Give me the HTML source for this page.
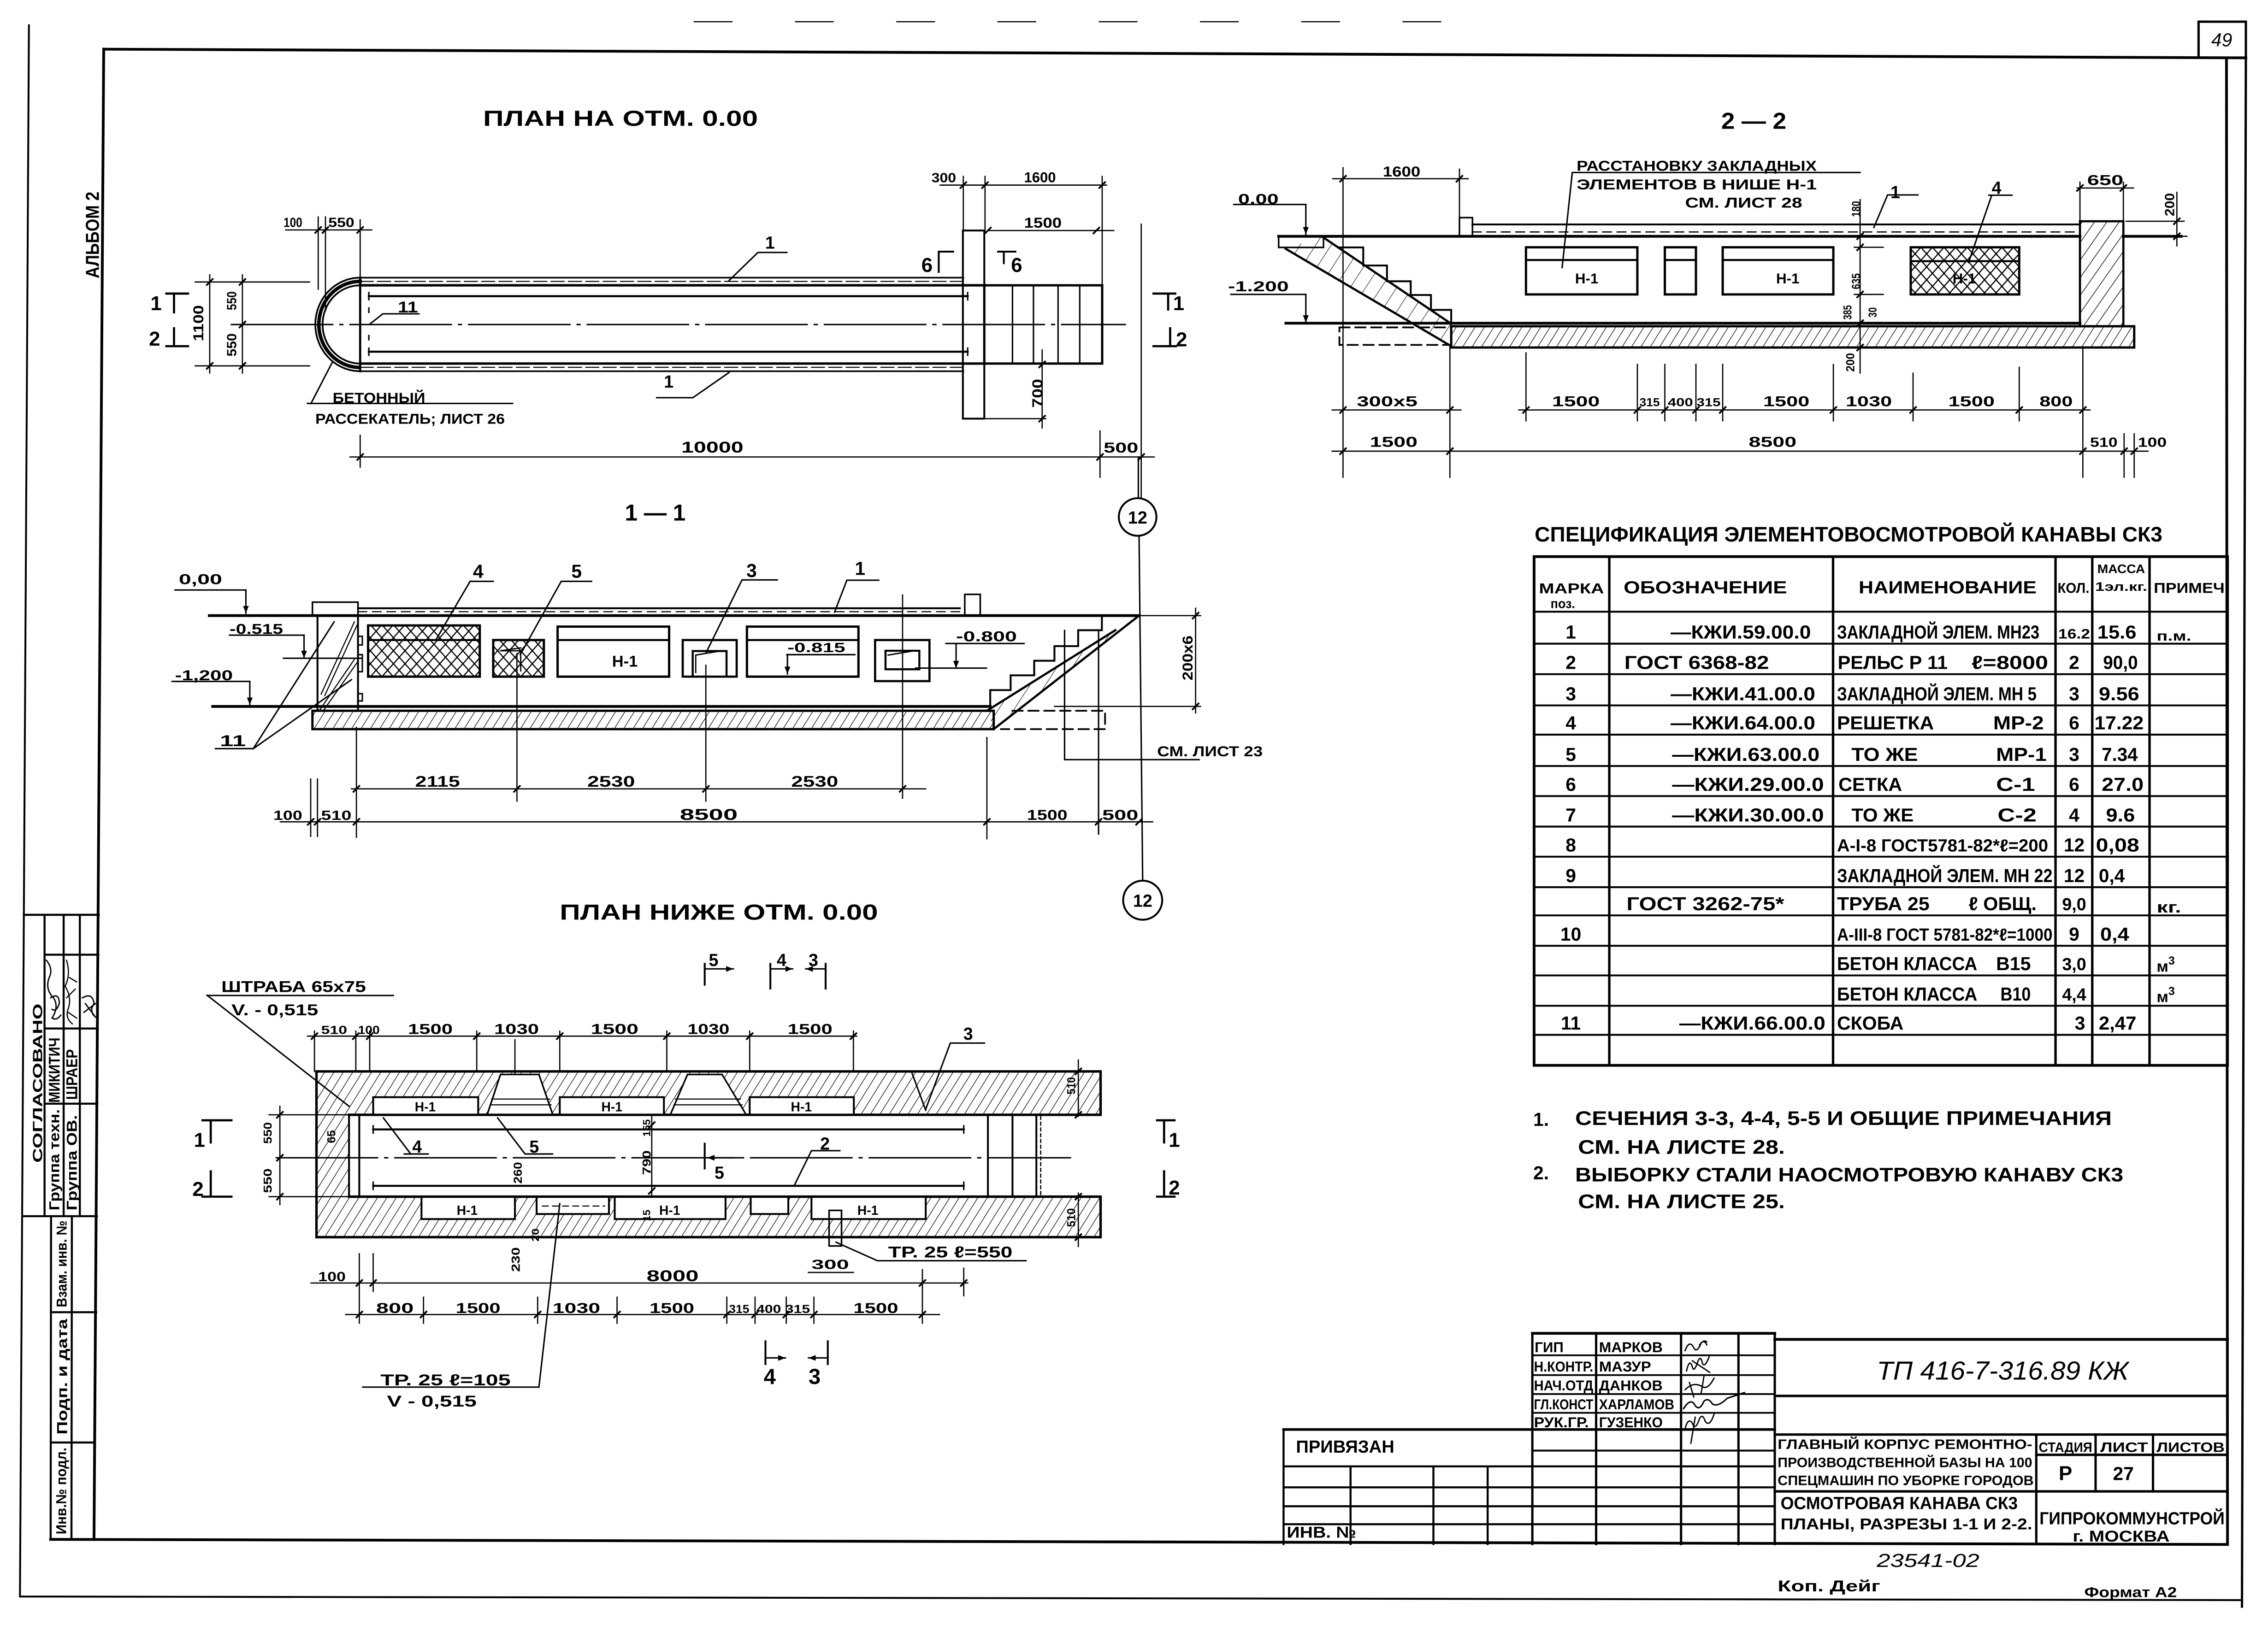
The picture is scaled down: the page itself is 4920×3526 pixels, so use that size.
<!DOCTYPE html>
<html lang="ru"><head><meta charset="utf-8"><title>ТП 416-7-316.89 КЖ</title>
<style>
html,body{margin:0;padding:0;background:#fff;width:4920px;height:3526px;overflow:hidden}
svg{display:block}
text{font-family:"Liberation Sans","DejaVu Sans",sans-serif;fill:#000;stroke:none;font-weight:bold}
.it{font-style:italic;font-weight:normal}
</style></head><body>
<svg xmlns="http://www.w3.org/2000/svg" width="4920" height="3526" viewBox="0 0 1568 1123.7" preserveAspectRatio="none">
<defs>
<pattern id="hs" patternUnits="userSpaceOnUse" width="5.5" height="5.5" patternTransform="rotate(32)"><line x1="0" y1="0" x2="0" y2="5.5" stroke="#000" stroke-width="0.8"/></pattern>
<pattern id="hw" patternUnits="userSpaceOnUse" width="7" height="7" patternTransform="rotate(35)"><line x1="0" y1="0" x2="0" y2="7" stroke="#000" stroke-width="0.85"/></pattern>
<pattern id="xh" patternUnits="userSpaceOnUse" width="8" height="9"><path d="M0,0 L8,9 M8,0 L0,9" stroke="#000" stroke-width="0.8" fill="none"/></pattern>
<pattern id="xs" patternUnits="userSpaceOnUse" width="9" height="9" patternTransform="rotate(33)"><line x1="0" y1="0" x2="0" y2="9" stroke="#000" stroke-width="0.65"/></pattern>
<marker id="ar" viewBox="0 0 10 10" refX="10" refY="5" markerWidth="5" markerHeight="5" orient="auto"><path d="M0,1 L10,5 L0,9 z" fill="#000" stroke="none"/></marker>
</defs>
<rect width="1568" height="1123.7" fill="#fff"/>

<g fill="none" stroke="#000" stroke-width="1" stroke-linecap="square">
<!-- FRAME -->
<path d="M71.7,34 L1552.7,40" stroke-width="1.9"/>
<path d="M1539.3,40 L1540,1068 L35,1064.5" stroke-width="1.9"/>
<path d="M71.7,34 L65,1064.5" stroke-width="1.9"/>
<path d="M20,17.5 L13.8,1104 L1550,1106.5" stroke-width="1.3"/>
<path d="M1552.7,40 L1550,1111" stroke-width="1.6"/>
<path d="M1520,40 V15 H1552.7 V40" stroke-width="1.6"/>
<line x1="480" y1="15" x2="1040" y2="15" stroke-width="0.8" stroke-dasharray="26 44"/>

<!-- LEFT STAMP -->
<path d="M16.5,632.6 H68.3 M30.8,632.6 V841 M44,632.6 V841 M55.2,632.6 V841 M30.8,660.2 H68 M30.8,711.2 H67.6 M30.8,763.2 H67.3 M16,841 H67" stroke-width="1.4"/>
<path d="M35.3,841 L35,1064.5 M49.7,841 L49.4,1064.5 M35.3,907.4 H66.5 M35.1,997.5 H65.6" stroke-width="1.4"/>
<path d="M32,664 q5,6 2,12 q-3,8 3,14 q4,6 -1,14 q3,2 6,-2 M35,690 q6,-4 6,4 q-2,6 -5,4" stroke-width="0.9"/>
<path d="M46,664 q3,10 -1,18 q5,8 2,16 q-2,6 3,10 M46,690 l6,-6 M47,700 l6,4 M48,676 l5,3" stroke-width="0.8"/>
<path d="M57,690 q7,-4 8,4 q-4,6 2,10 M58,700 l8,-6 M59,694 l6,8" stroke-width="0.9"/>

<!-- PLAN 1 -->
<path d="M249,192 H666" stroke-width="1.1"/>
<path d="M249,194.6 H666 M249,254 H666" stroke-width="0.7" stroke-dasharray="9 3"/>
<path d="M249,197.3 H681 M249,251.4 H681" stroke-width="1.7"/>
<path d="M249,256.7 H666" stroke-width="1.1"/>
<path d="M249,192 A31,32.35 0 0 0 249,256.7" stroke-width="1.2"/>
<path d="M249,197.3 A26,27.05 0 0 0 249,251.4" stroke-width="1.2"/>
<path d="M249,194.6 A28.5,29.7 0 0 0 249,254.1" stroke-width="2.4" stroke-dasharray="0.7 2"/>
<path d="M249,192 V256.7" stroke-width="1.5"/>
<path d="M255,213 v3 M255,232 v3" stroke-width="1"/>
<path d="M255,204.8 H669 M255,243.2 H669" stroke-width="1.4"/>
<path d="M255,202.3 v5 M669,202.3 v5 M255,240.7 v5 M669,240.7 v5" stroke-width="1"/>
<path d="M160,224.4 H778" stroke-width="1" stroke-dasharray="70 5 2 5"/>
<rect x="665.7" y="159.4" width="14.8" height="130.1" stroke-width="1.3"/>
<rect x="680.5" y="197.3" width="81.5" height="54.1" stroke-width="1.6"/>
<path d="M700,197.3 V251.4 M714.5,197.3 V251.4 M731.5,197.3 V251.4 M746.5,197.3 V251.4"/>
<path d="M649,188 V174 H659 M690,174 H702 M694,174 V182" stroke-width="1.3"/>
<path d="M650,128 H765 M666,122 V160 M681,122 V160 M762,122 V197" stroke-width="0.85"/>
<path d="M683,159.4 H770" stroke-width="0.85"/>
<path d="M664,130 l4,-4 M679,130 l4,-4 M760,130 l4,-4 M681,161.4 l4,-4 M756,161.4 l4,-4" stroke-width="1.2"/>
<path d="M544,174.6 H524 L504,194"/>
<path d="M454,275 H479 L504,257.6"/>
<path d="M289.6,217 H264.7 L255.8,224"/>
<path d="M197.5,159 H257 M220,150 V200 M225,150 V215 M249,152 V192" stroke-width="0.85"/>
<path d="M218,161 l4,-4 M223,161 l4,-4 M247,161 l4,-4" stroke-width="1.2"/>
<path d="M135,195 H214 M135,253 H214 M145,190 V258 M167.6,190 V258" stroke-width="0.85"/>
<path d="M143,197 l4,-4 M143,255 l4,-4 M165.6,197 l4,-4 M165.6,226.4 l4,-4 M165.6,255 l4,-4" stroke-width="1.2"/>
<path d="M115,203 H130 M120.3,203 V216 M115,239.4 H130 M120.3,239.4 V227" stroke-width="1.5"/>
<path d="M797.5,203 H812.5 M807.6,203 V214 M797.5,239.4 H813 M809,227 V239.4" stroke-width="1.5"/>
<path d="M212.5,279 H354.4 M215,279 L230,250"/>
<path d="M242,316 H798 M249,301 V323 M760.5,298 V330 M789,155 V344.5" stroke-width="0.85"/>
<path d="M247,318 l4,-4 M758.5,318 l4,-4 M787,318 l4,-4" stroke-width="1.2"/>
<path d="M720.5,242 V296 M681,289.5 H723" stroke-width="0.85"/>
<path d="M718.5,254 l4,-4 M718.5,291.5 l4,-4" stroke-width="1.2"/>

<!-- SECTION 2-2 -->
<path d="M884,163.4 H1438 M1468,163.4 H1508" stroke-width="1.9"/>
<path d="M1018,155.2 H1438" stroke-width="1.3"/>
<path d="M1018,160.4 H1438" stroke-width="0.85" stroke-dasharray="6 4"/>
<rect x="1009" y="150.5" width="9" height="12.9" stroke-width="1.1"/>
<rect x="884" y="163.4" width="31" height="7.7" stroke-width="1.1"/>
<polygon points="914.5,163.4 1003.3,223.5 1003.3,239.4 888.8,172" fill="url(#xs)" stroke="none"/>
<path d="M914.5,163.9 L1003.3,223.9 M888.8,172 L1003.3,239.4" stroke-width="1.5"/>
<polyline points="925,171.1 942.5,171.1 942.5,183.6 958.9,183.6 958.9,194.5 975.3,194.5 975.3,204 989.3,204 989.3,214.3 1003.3,214.3 1003.3,223.5" stroke-width="1.3"/>
<path d="M889,223.5 H1438" stroke-width="1.9"/>
<rect x="1003.3" y="225.6" width="472.2" height="14.7" fill="url(#hs)" stroke-width="1.6"/>
<rect x="926" y="226.4" width="77.3" height="12.1" stroke-width="1.2" stroke-dasharray="7 4"/>
<rect x="1438" y="153" width="30" height="72.6" fill="url(#hw)" stroke-width="1.5"/>
<rect x="1055" y="171" width="77" height="32.6" stroke-width="1.6"/>
<path d="M1055,179.8 H1132" stroke-width="1.4"/>
<rect x="1151" y="171" width="21.5" height="32.6" stroke-width="1.6"/>
<path d="M1151,179.8 H1172.5" stroke-width="1.4"/>
<rect x="1191" y="171" width="76.5" height="32.6" stroke-width="1.6"/>
<path d="M1191,179.8 H1267.5" stroke-width="1.4"/>
<rect x="1321" y="171" width="75" height="32.6" fill="url(#xh)" stroke-width="1.6"/>
<path d="M1321,180.6 H1396" stroke-width="1.4"/>
<path d="M1087,119.3 H1286 M1087,119.3 L1080,185"/>
<path d="M921.5,123.6 H1015 M928.5,116 V330 M1009,117 V150" stroke-width="0.85"/>
<path d="M926.5,125.6 l4,-4 M1007,125.6 l4,-4" stroke-width="1.2"/>
<path d="M853,141.4 H902.8"/>
<path d="M902.8,141.4 V162" marker-end="url(#ar)"/>
<path d="M851,203.6 H902.8"/>
<path d="M902.8,203.6 V223" marker-end="url(#ar)"/>
<path d="M1286,138 V258 M1282,171 H1302 M1282,203.6 H1302" stroke-width="0.85"/>
<path d="M1284,165.4 l4,-4 M1284,173 l4,-4 M1284,205.6 l4,-4 M1284,225.5 l4,-4 M1284,242.3 l4,-4" stroke-width="1.2"/>
<path d="M1326,134.8 H1305 L1295.5,157.3"/>
<path d="M1391,135 H1375 M1377,135 L1361,181.5"/>
<path d="M1436,130 H1475 M1438,126 V153 M1468,126 V153" stroke-width="0.85"/>
<path d="M1436,132 l4,-4 M1466,132 l4,-4" stroke-width="1.2"/>
<path d="M1470,153 H1510 M1470,163.4 H1512 M1505,133 V170" stroke-width="0.85"/>
<path d="M1503,155 l4,-4 M1503,165.4 l4,-4" stroke-width="1.2"/>
<path d="M921,283.5 H1010 M1050,283.5 H1445" stroke-width="0.85"/>
<path d="M1055,244 V291 M1132,252 V291 M1151,252 V291 M1172.5,252 V291 M1191,252 V291 M1267.5,252 V291 M1322.6,258 V291 M1396,254 V291 M1440,240 V330 M1002.4,240 V330" stroke-width="0.85"/>
<path d="M926.5,285.5 l4,-4 M1000.4,285.5 l4,-4 M1053,285.5 l4,-4 M1130,285.5 l4,-4 M1149,285.5 l4,-4 M1170.5,285.5 l4,-4 M1189,285.5 l4,-4 M1265.5,285.5 l4,-4 M1320.6,285.5 l4,-4 M1394,285.5 l4,-4 M1438,285.5 l4,-4" stroke-width="1.2"/>
<path d="M921,312 H1485 M1468.5,300 V330 M1475.5,300 V330" stroke-width="0.85"/>
<path d="M926.5,314 l4,-4 M1000.4,314 l4,-4 M1438,314 l4,-4 M1466.5,314 l4,-4 M1473.5,314 l4,-4" stroke-width="1.2"/>

<!-- SECTION 1-1 -->
<circle cx="786.5" cy="357.5" r="13" stroke-width="1.3"/>
<path d="M787,316 V344.5 M787.5,370.5 L790,609" stroke-width="1"/>
<path d="M121,408 H170"/>
<path d="M170,408 V424" marker-end="url(#ar)"/>
<path d="M144.7,425.7 H787.5" stroke-width="1.9"/>
<path d="M247.5,420.6 H663.6" stroke-width="1.3"/>
<path d="M247.5,423 H663.6" stroke-width="0.75" stroke-dasharray="6 4"/>
<rect x="216" y="416.4" width="31.5" height="9.3" stroke-width="1.1"/>
<rect x="667" y="411" width="10.7" height="14.7" stroke-width="1.1"/>
<path d="M158.7,439.2 H210.2 M196,455.2 H250"/>
<path d="M210.2,439.2 V455" marker-end="url(#ar)"/>
<path d="M119,471.2 H172.7"/>
<path d="M172.7,471.2 V487.3" marker-end="url(#ar)"/>
<path d="M147,488.5 H684.6" stroke-width="1.9"/>
<rect x="216" y="491.5" width="471" height="12.7" fill="url(#hs)" stroke-width="1.6"/>
<polygon points="682.3,491.5 771.1,435.8 779,425.7 787.5,425.7 687,504.2" fill="url(#xs)" stroke="none"/>
<path d="M687,504.2 L787.5,425.7 M682.3,491.5 L771.1,435.8" stroke-width="1.5"/>
<polyline points="684.6,488.5 684.6,477.2 698.7,477.2 698.7,467 715,467 715,456.9 729,456.9 729,446.8 745.4,446.8 745.4,435.8 761.8,435.8 761.8,425.7" stroke-width="1.3"/>
<path d="M700,491.5 H764 V504.2 H692" stroke-width="1.2" stroke-dasharray="7 4"/>
<path d="M736,436 V525.3 H829 M759.5,436 V576.7" stroke-width="1"/>
<path d="M826.6,420.6 V493 M787.5,425.7 H830 M729,488.5 H830" stroke-width="0.85"/>
<path d="M824.6,427.7 l4,-4 M824.6,490.5 l4,-4" stroke-width="1.2"/>
<path d="M219.5,425.7 V491.5 M247.5,425.7 V491.5" stroke-width="1.3"/>
<path d="M247.5,440 h3 v6 h-3 M247.5,452.7 h3 v11.8 h-3 M247.5,479.7 h3 v5 h-3" stroke-width="1"/>
<path d="M222,480 L245,430 M224.5,481 L247,432 M221,491 L245,456 M223.5,491.5 L247,458" stroke-width="0.75"/>
<path d="M149,517.7 H175.1 L231,430 M175.1,517.7 L243,470"/>
<rect x="254.5" y="432.5" width="77.2" height="35.4" fill="url(#xh)" stroke-width="1.6"/>
<path d="M254.5,442.6 H331.7" stroke-width="1.4"/>
<rect x="341" y="442.6" width="35" height="25.3" fill="url(#xh)" stroke-width="1.6"/>
<path d="M346,450 h14 v14 M346,450 l14,-2" stroke-width="0.9"/>
<rect x="385.5" y="433.3" width="77.1" height="34.6" stroke-width="1.6"/>
<path d="M385.5,442.6 H462.6" stroke-width="1.4"/>
<rect x="472" y="442.6" width="37.3" height="25.3" stroke-width="1.5"/>
<rect x="478.9" y="450.2" width="23.4" height="17.7" stroke-width="1.4"/>
<path d="M481,453 l18,-3 M481,453 v12" stroke-width="0.9"/>
<rect x="516.4" y="433.3" width="77.1" height="34.6" stroke-width="1.6"/>
<path d="M516.4,442.6 H593.5" stroke-width="1.4"/>
<path d="M544,452.7 H591"/>
<path d="M544.4,452.7 V466" marker-end="url(#ar)"/>
<rect x="605" y="442.6" width="37.6" height="28.4" stroke-width="1.5"/>
<rect x="612.2" y="450" width="23.4" height="12.8" stroke-width="1.4"/>
<path d="M614,453 l18,-3" stroke-width="0.9"/>
<path d="M654,445 H708 M633,462 H682"/>
<path d="M661,445 V462" marker-end="url(#ar)"/>
<path d="M341,402 H325 L301.3,442.6"/>
<path d="M409,402 H388 L359.7,452.7"/>
<path d="M537.4,401 H513 L488.3,451"/>
<path d="M607.5,401.2 H585.5 L577,423.2"/>
<path d="M357.4,452 V554 M488,460 V554 M624,411.4 V552 M246.4,503 V579 M682.3,510 V580 M214.8,538.7 V578.4 M219.5,538.7 V578.4" stroke-width="0.85"/>
<path d="M243,545.5 H640 M193.8,568.3 H796.9" stroke-width="0.85"/>
<path d="M244.4,547.5 l4,-4 M355.4,547.5 l4,-4 M486,547.5 l4,-4 M622,547.5 l4,-4" stroke-width="1.2"/>
<path d="M212.8,570.3 l4,-4 M217.5,570.3 l4,-4 M244.4,570.3 l4,-4 M680.3,570.3 l4,-4 M757.5,570.3 l4,-4 M785.5,570.3 l4,-4" stroke-width="1.2"/>

<!-- LOWER PLAN -->
<circle cx="790" cy="622.5" r="13.5" stroke-width="1.3"/>
<path d="M487.2,666.5 V681 M532.6,666.5 V683.6 M570.8,666.5 V683.6" stroke-width="1.3"/>
<path d="M487.2,670 H507" stroke-width="1" marker-end="url(#ar)"/>
<path d="M532.6,670 H548" stroke-width="1" marker-end="url(#ar)"/>
<path d="M570.8,670 H557" stroke-width="1" marker-end="url(#ar)"/>
<path d="M143,688.4 H272 M143.4,688.4 L241.3,765"/>
<path d="M212.6,716.5 H592.3" stroke-width="0.85"/>
<path d="M217.4,713 V741 M246,713 V741 M255.6,713 V741 M329.6,713 V741 M387,713 V741 M461,713 V741 M518.3,713 V741 M590,713 V741 M356,719 V755" stroke-width="0.85"/>
<path d="M215.4,718.5 l4,-4 M244,718.5 l4,-4 M253.6,718.5 l4,-4 M327.6,718.5 l4,-4 M385,718.5 l4,-4 M459,718.5 l4,-4 M516.3,718.5 l4,-4 M588,718.5 l4,-4" stroke-width="1.2"/>
<rect x="218.8" y="740.9" width="542.1" height="30" fill="url(#hs)" stroke="none"/>
<rect x="218.8" y="770.9" width="22.5" height="56.6" fill="url(#hs)" stroke="none"/>
<rect x="218.8" y="827.5" width="542.1" height="28" fill="url(#hs)" stroke="none"/>
<path d="M218.8,740.9 H760.9 V770.9 H241.3 M218.8,740.9 V855.5 H760.9 V827.5 H241.3" stroke-width="1.7"/>
<rect x="258" y="758.7" width="72.6" height="12.2" fill="#fff" stroke-width="1.3"/>
<polygon points="346,743 372.6,743 382.2,770.9 336.8,770.9" fill="#fff" stroke-width="1.1"/>
<path d="M340,760 H380 M339,764 H381" stroke-width="0.75"/>
<rect x="387" y="758.7" width="72" height="12.2" fill="#fff" stroke-width="1.3"/>
<polygon points="475.3,743 499.2,743 515.9,770.9 463.4,770.9" fill="#fff" stroke-width="1.1"/>
<path d="M467,760 H512 M466,764 H513" stroke-width="0.75"/>
<rect x="518.3" y="758.7" width="72" height="12.2" fill="#fff" stroke-width="1.3"/>
<path d="M630.5,742 L640,767.7" stroke-width="1"/>
<rect x="291.4" y="827.5" width="64.6" height="15.5" fill="#fff" stroke-width="1.3"/>
<rect x="371" y="827.5" width="50" height="12" fill="#fff" stroke-width="1.3"/>
<path d="M375,834 H418" stroke-width="0.75" stroke-dasharray="4 3"/>
<rect x="425" y="827.5" width="76.6" height="15.5" fill="#fff" stroke-width="1.3"/>
<rect x="519" y="827.5" width="26" height="12" fill="#fff" stroke-width="1.3"/>
<rect x="561" y="827.5" width="79" height="15.5" fill="#fff" stroke-width="1.3"/>
<path d="M241.3,770.9 H716.5 M241.3,827.5 H716.5" stroke-width="1.6"/>
<path d="M241.3,770.9 V827.5 M248.4,770.9 V827.5 M683,770.9 V827.5 M700,770.9 V827.5 M716.5,770.9 V827.5" stroke-width="1.3"/>
<path d="M719.5,772 V826" stroke-width="0.85" stroke-dasharray="2 2"/>
<path d="M258,781 H666.3 M258,820 H666.3" stroke-width="1.4"/>
<path d="M258,778.5 v5 M666.3,778.5 v5 M258,817.5 v5 M666.3,817.5 v5"/>
<path d="M191,800.6 H740" stroke-width="1" stroke-dasharray="70 5 2 5"/>
<path d="M186,770.9 H241 M186,827.5 H241 M193.5,765 V833" stroke-width="0.85"/>
<path d="M191.5,772.9 l4,-4 M191.5,802.6 l4,-4 M191.5,829.5 l4,-4" stroke-width="1.2"/>
<path d="M140,774.7 H160 M145.7,774.7 V790 M140,827.5 H160 M145.7,827.5 V810" stroke-width="1.5"/>
<path d="M800,774.7 H812 M804.8,774.7 V790 M800,827.5 H812 M804.8,827.5 V810" stroke-width="1.5"/>
<path d="M450.6,770.9 V827.5" stroke-width="0.85"/>
<path d="M448.6,780 l4,-4 M448.6,825.5 l4,-4" stroke-width="1.2"/>
<path d="M296,798 H279.5 M284,798 L265,773"/>
<path d="M382,798 H363 L344,773"/>
<path d="M580.6,795.7 H561 L549,820"/>
<path d="M680.6,721.3 H657 L640,767"/>
<path d="M487.2,790.9 V808" stroke-width="1.3"/>
<path d="M511,800.6 H489" stroke-width="1" marker-end="url(#ar)"/>
<rect x="573.2" y="837" width="8.6" height="24.6" stroke-width="1.1"/>
<path d="M578,859 L606.6,871.8 H709.3"/>
<path d="M558.9,879.9 H590" stroke-width="0.85"/>
<path d="M745.5,733 V772 M745.5,825 V862" stroke-width="0.85"/>
<path d="M743.5,742.9 l4,-4 M743.5,772.9 l4,-4 M743.5,829.5 l4,-4 M743.5,857.5 l4,-4" stroke-width="1.2"/>
<path d="M215,887.2 H669 M248.4,867 V915 M258,867 V893 M637.7,878 V915 M666.3,877 V896" stroke-width="0.85"/>
<path d="M246.4,889.2 l4,-4 M256,889.2 l4,-4 M635.7,889.2 l4,-4 M664.3,889.2 l4,-4" stroke-width="1.2"/>
<path d="M239,909 H649.6 M292.8,897 V915 M371.7,897 V915 M426.6,897 V915 M502.5,897 V915 M522,897 V915 M543.6,897 V915 M562.7,897 V915" stroke-width="0.85"/>
<path d="M246.4,911 l4,-4 M290.8,911 l4,-4 M369.7,911 l4,-4 M424.6,911 l4,-4 M500.5,911 l4,-4 M520,911 l4,-4 M541.6,911 l4,-4 M560.7,911 l4,-4 M635.7,911 l4,-4" stroke-width="1.2"/>
<path d="M250.8,959.2 H372.6 L387,832.3"/>
<path d="M529.2,927.5 V943.3 M572.3,927.5 V943.3" stroke-width="1.3"/>
<path d="M529.2,939 H543" stroke-width="1" marker-end="url(#ar)"/>
<path d="M572.3,939 H559" stroke-width="1" marker-end="url(#ar)"/>

<!-- SPEC TABLE -->
<rect x="1060.6" y="384.9" width="479.4" height="351.8" stroke-width="1.9"/>
<path d="M1112.6,384.9 V736.7 M1267.3,384.9 V736.7 M1421.1,384.9 V736.7 M1446.5,384.9 V736.7 M1486.1,384.9 V736.7" stroke-width="1.7"/>
<path d="M1060.6,423 H1540 M1060.6,445.1 H1540 M1060.6,466.2 H1540 M1060.6,487.8 H1540 M1060.6,508 H1540 M1060.6,529.7 H1540 M1060.6,550.5 H1540 M1060.6,571.6 H1540 M1060.6,592.4 H1540 M1060.6,613.5 H1540 M1060.6,633 H1540 M1060.6,654 H1540 M1060.6,674.5 H1540 M1060.6,695.5 H1540 M1060.6,715.6 H1540" stroke-width="1.3"/>

<!-- TITLE BLOCK -->
<path d="M1059.4,922 H1227 M1227,926.2 H1540" stroke-width="1.9"/>
<path d="M1059.4,922 V1067.7 M1103.5,922 V1067.7 M1162.2,922 V1067.7 M1201.9,922 V1067.7 M1227,922 V1067.7" stroke-width="1.6"/>
<path d="M1059.4,937.2 H1227 M1059.4,950.9 H1227 M1059.4,964 H1227 M1059.4,977 H1227" stroke-width="1.2"/>
<path d="M887.4,988.5 H1227" stroke-width="1.8"/>
<path d="M1059.4,1003.1 H1227" stroke-width="1.3"/>
<path d="M887.4,1014 H1227 M887.4,1028.5 H1227 M887.4,1041.6 H1227 M887.4,1054 H1227" stroke-width="1.4"/>
<path d="M887.4,988.5 V1067.7 M933.7,1014 V1067.7 M991,1014 V1067.7 M1028.5,1014 V1067.7" stroke-width="1.4"/>
<path d="M1227,965.3 H1540 M1227,992 H1540 M1227,1031.3 H1540 M1407.8,1006 H1540" stroke-width="1.7"/>
<path d="M1407.8,992 V1067.7 M1448.8,992 V1031.3 M1488.5,992 V1031.3" stroke-width="1.6"/>
<path d="M1165,934 q3,-8 6,-2 q2,4 5,-3 q2,-3 4,1 M1175,930 q3,-4 5,-2" stroke-width="0.9"/>
<path d="M1166,948 q2,-9 4,-3 q1,5 4,-4 q2,-4 3,2 q2,3 5,-6 M1170,941 l12,8" stroke-width="0.9"/>
<path d="M1165,961 q6,-6 12,-2 q4,2 8,-6 M1168,956 l3,10 M1178,952 l-2,12" stroke-width="0.9"/>
<path d="M1164,974 q5,-8 8,-2 q3,4 6,-3 q3,-3 6,2 q4,2 10,-4 q6,-2 12,-4" stroke-width="1"/>
<path d="M1165,988 q2,-8 5,-4 q2,6 5,-3 q2,-4 4,2 q3,4 6,-5 M1172,980 l-3,18" stroke-width="0.9"/>
</g>

<g>
<!-- frame texts -->
<text x="1536" y="32" font-size="13" text-anchor="middle" class="it">49</text>
<text transform="translate(63.8,162.5) rotate(-90)" x="0" y="4.5" font-size="13" text-anchor="middle" textLength="60" lengthAdjust="spacingAndGlyphs">АЛЬБОМ 2</text>
<!-- stamp texts -->
<text transform="translate(26,749) rotate(-90)" x="0" y="3.2" font-size="9" text-anchor="middle" textLength="110" lengthAdjust="spacingAndGlyphs">СОГЛАСОВАНО</text>
<text transform="translate(37.4,740) rotate(-90)" x="0" y="3.8" font-size="11" text-anchor="middle" textLength="45" lengthAdjust="spacingAndGlyphs">МИКИТИЧ</text>
<text transform="translate(49.6,743) rotate(-90)" x="0" y="3.8" font-size="11" text-anchor="middle" textLength="35" lengthAdjust="spacingAndGlyphs">ШРАЕР</text>
<text transform="translate(37.4,802) rotate(-90)" x="0" y="3.5" font-size="10" text-anchor="middle" textLength="70" lengthAdjust="spacingAndGlyphs">Группа техн.</text>
<text transform="translate(49.6,804) rotate(-90)" x="0" y="3.5" font-size="10" text-anchor="middle" textLength="66" lengthAdjust="spacingAndGlyphs">Группа ОВ.</text>
<text transform="translate(42.5,874) rotate(-90)" x="0" y="3.5" font-size="10" text-anchor="middle" textLength="60" lengthAdjust="spacingAndGlyphs">Взам. инв. №</text>
<text transform="translate(42.8,952) rotate(-90)" x="0" y="3.5" font-size="10" text-anchor="middle" textLength="80" lengthAdjust="spacingAndGlyphs">Подп. и дата</text>
<text transform="translate(42.3,1031) rotate(-90)" x="0" y="3.5" font-size="10" text-anchor="middle" textLength="60" lengthAdjust="spacingAndGlyphs">Инв.№ подл.</text>

<!-- PLAN 1 texts -->
<text x="334" y="87" font-size="15" textLength="190" lengthAdjust="spacingAndGlyphs">ПЛАН НА ОТМ. 0.00</text>
<text x="644" y="126" font-size="9" textLength="17" lengthAdjust="spacingAndGlyphs">300</text>
<text x="708" y="126" font-size="10" textLength="22" lengthAdjust="spacingAndGlyphs">1600</text>
<text x="708" y="157.5" font-size="10" textLength="26" lengthAdjust="spacingAndGlyphs">1500</text>
<text x="196" y="157" font-size="9" textLength="13" lengthAdjust="spacingAndGlyphs">100</text>
<text x="227" y="157" font-size="9" textLength="18" lengthAdjust="spacingAndGlyphs">550</text>
<text x="529" y="172" font-size="12">1</text>
<text x="637" y="188" font-size="14">6</text>
<text x="699" y="188" font-size="14">6</text>
<text x="275" y="216" font-size="11" textLength="14" lengthAdjust="spacingAndGlyphs">11</text>
<text x="104" y="214.5" font-size="14">1</text>
<text x="103" y="239" font-size="14">2</text>
<text x="811" y="214.5" font-size="14">1</text>
<text x="813" y="239.5" font-size="14">2</text>
<text transform="translate(137,223.5) rotate(-90)" x="0" y="3.5" font-size="10" text-anchor="middle" textLength="25" lengthAdjust="spacingAndGlyphs">1100</text>
<text transform="translate(160,208) rotate(-90)" x="0" y="3.3" font-size="9" text-anchor="middle" textLength="13" lengthAdjust="spacingAndGlyphs">550</text>
<text transform="translate(160,238.5) rotate(-90)" x="0" y="3.3" font-size="9" text-anchor="middle" textLength="16" lengthAdjust="spacingAndGlyphs">550</text>
<text transform="translate(717,272) rotate(-90)" x="0" y="3.5" font-size="10" text-anchor="middle" textLength="20" lengthAdjust="spacingAndGlyphs">700</text>
<text x="230" y="278.5" font-size="10" textLength="64" lengthAdjust="spacingAndGlyphs">БЕТОННЫЙ</text>
<text x="218" y="293" font-size="10" textLength="131" lengthAdjust="spacingAndGlyphs">РАССЕКАТЕЛЬ; ЛИСТ 26</text>
<text x="459" y="268" font-size="12">1</text>
<text x="471" y="313" font-size="11" textLength="43" lengthAdjust="spacingAndGlyphs">10000</text>
<text x="763" y="313" font-size="10" textLength="24" lengthAdjust="spacingAndGlyphs">500</text>

<!-- SECTION 2-2 texts -->
<text x="1190" y="89" font-size="16" textLength="45" lengthAdjust="spacingAndGlyphs">2 — 2</text>
<text x="1090" y="118" font-size="10" textLength="166" lengthAdjust="spacingAndGlyphs">РАССТАНОВКУ ЗАКЛАДНЫХ</text>
<text x="1090" y="131" font-size="10" textLength="166" lengthAdjust="spacingAndGlyphs">ЭЛЕМЕНТОВ В НИШЕ Н-1</text>
<text x="1165" y="143.5" font-size="10" textLength="81" lengthAdjust="spacingAndGlyphs">СМ. ЛИСТ 28</text>
<text x="956" y="122" font-size="10" textLength="26" lengthAdjust="spacingAndGlyphs">1600</text>
<text x="856" y="141" font-size="10" textLength="28" lengthAdjust="spacingAndGlyphs">0.00</text>
<text x="849" y="201.4" font-size="10" textLength="42" lengthAdjust="spacingAndGlyphs">-1.200</text>
<text x="1097" y="196" font-size="10" text-anchor="middle">Н-1</text>
<text x="1236" y="196" font-size="10" text-anchor="middle">Н-1</text>
<text x="1358" y="196" font-size="10" text-anchor="middle">Н-1</text>
<text transform="translate(1283,144.5) rotate(-90)" x="0" y="3" font-size="8" text-anchor="middle" textLength="11" lengthAdjust="spacingAndGlyphs">180</text>
<text transform="translate(1283,194.5) rotate(-90)" x="0" y="3" font-size="8" text-anchor="middle" textLength="11" lengthAdjust="spacingAndGlyphs">635</text>
<text transform="translate(1277,216) rotate(-90)" x="0" y="3" font-size="8" text-anchor="middle" textLength="10" lengthAdjust="spacingAndGlyphs">385</text>
<text transform="translate(1294.5,216) rotate(-90)" x="0" y="3" font-size="8" text-anchor="middle" textLength="7" lengthAdjust="spacingAndGlyphs">30</text>
<text transform="translate(1279,250.6) rotate(-90)" x="0" y="3" font-size="8" text-anchor="middle" textLength="13" lengthAdjust="spacingAndGlyphs">200</text>
<text x="1307" y="137" font-size="12">1</text>
<text x="1377" y="134" font-size="12">4</text>
<text x="1443" y="128" font-size="10" textLength="25" lengthAdjust="spacingAndGlyphs">650</text>
<text transform="translate(1500,141.5) rotate(-90)" x="0" y="3.2" font-size="9" text-anchor="middle" textLength="16" lengthAdjust="spacingAndGlyphs">200</text>
<text x="938" y="281" font-size="10" textLength="42" lengthAdjust="spacingAndGlyphs">300х5</text>
<text x="1073" y="281" font-size="10" textLength="33" lengthAdjust="spacingAndGlyphs">1500</text>
<text x="1133.5" y="281" font-size="8" textLength="14" lengthAdjust="spacingAndGlyphs">315</text>
<text x="1153" y="281" font-size="8" textLength="17.5" lengthAdjust="spacingAndGlyphs">400</text>
<text x="1173" y="281" font-size="8" textLength="16.5" lengthAdjust="spacingAndGlyphs">315</text>
<text x="1219" y="281" font-size="10" textLength="32" lengthAdjust="spacingAndGlyphs">1500</text>
<text x="1276" y="281" font-size="10" textLength="32" lengthAdjust="spacingAndGlyphs">1030</text>
<text x="1347" y="281" font-size="10" textLength="32" lengthAdjust="spacingAndGlyphs">1500</text>
<text x="1410" y="281" font-size="10" textLength="23" lengthAdjust="spacingAndGlyphs">800</text>
<text x="947" y="309" font-size="10" textLength="33" lengthAdjust="spacingAndGlyphs">1500</text>
<text x="1209" y="309" font-size="10" textLength="33" lengthAdjust="spacingAndGlyphs">8500</text>
<text x="1445" y="309" font-size="9" textLength="19" lengthAdjust="spacingAndGlyphs">510</text>
<text x="1478" y="309" font-size="9" textLength="20" lengthAdjust="spacingAndGlyphs">100</text>

<!-- SECTION 1-1 texts -->
<text x="432" y="360" font-size="16" textLength="42" lengthAdjust="spacingAndGlyphs">1 — 1</text>
<text x="786.5" y="362" font-size="12" text-anchor="middle">12</text>
<text x="123.6" y="404" font-size="10" textLength="30" lengthAdjust="spacingAndGlyphs">0,00</text>
<text x="158.7" y="438.4" font-size="10" textLength="37" lengthAdjust="spacingAndGlyphs">-0.515</text>
<text x="121" y="470.4" font-size="10" textLength="40" lengthAdjust="spacingAndGlyphs">-1,200</text>
<text x="327" y="399.5" font-size="13">4</text>
<text x="395" y="399.5" font-size="13">5</text>
<text x="516" y="399" font-size="13">3</text>
<text x="591" y="397.5" font-size="13">1</text>
<text x="432" y="461" font-size="11" text-anchor="middle">Н-1</text>
<text x="544.4" y="451" font-size="9" textLength="40" lengthAdjust="spacingAndGlyphs">-0.815</text>
<text x="661" y="443.4" font-size="10" textLength="42" lengthAdjust="spacingAndGlyphs">-0.800</text>
<text x="152" y="516" font-size="11" textLength="18" lengthAdjust="spacingAndGlyphs">11</text>
<text x="800" y="523" font-size="10" textLength="73" lengthAdjust="spacingAndGlyphs">СМ. ЛИСТ 23</text>
<text transform="translate(821,455) rotate(-90)" x="0" y="3.5" font-size="10" text-anchor="middle" textLength="31" lengthAdjust="spacingAndGlyphs">200х6</text>
<text x="287" y="544" font-size="10.5" textLength="31" lengthAdjust="spacingAndGlyphs">2115</text>
<text x="406" y="544" font-size="10.5" textLength="33" lengthAdjust="spacingAndGlyphs">2530</text>
<text x="547" y="544" font-size="10.5" textLength="32.5" lengthAdjust="spacingAndGlyphs">2530</text>
<text x="189" y="567" font-size="9" textLength="20" lengthAdjust="spacingAndGlyphs">100</text>
<text x="222" y="567" font-size="9" textLength="21" lengthAdjust="spacingAndGlyphs">510</text>
<text x="470" y="567" font-size="11" textLength="40" lengthAdjust="spacingAndGlyphs">8500</text>
<text x="710" y="567" font-size="10" textLength="28" lengthAdjust="spacingAndGlyphs">1500</text>
<text x="762" y="567" font-size="10" textLength="25" lengthAdjust="spacingAndGlyphs">500</text>

<!-- LOWER PLAN texts -->
<text x="387" y="636" font-size="15" textLength="220" lengthAdjust="spacingAndGlyphs">ПЛАН НИЖЕ ОТМ. 0.00</text>
<text x="790" y="627" font-size="12" text-anchor="middle">12</text>
<text x="490" y="668" font-size="12">5</text>
<text x="537" y="668" font-size="12">4</text>
<text x="559" y="668" font-size="12">3</text>
<text x="153" y="686" font-size="11" textLength="100" lengthAdjust="spacingAndGlyphs">ШТРАБА 65х75</text>
<text x="160" y="702" font-size="11" textLength="60" lengthAdjust="spacingAndGlyphs">V. - 0,515</text>
<text x="222" y="715" font-size="8" textLength="18" lengthAdjust="spacingAndGlyphs">510</text>
<text x="247.5" y="715" font-size="8" textLength="15" lengthAdjust="spacingAndGlyphs">100</text>
<text x="282" y="715" font-size="10" textLength="31" lengthAdjust="spacingAndGlyphs">1500</text>
<text x="341.6" y="715" font-size="10" textLength="31" lengthAdjust="spacingAndGlyphs">1030</text>
<text x="408.4" y="715" font-size="10" textLength="33" lengthAdjust="spacingAndGlyphs">1500</text>
<text x="475.3" y="715" font-size="10" textLength="29" lengthAdjust="spacingAndGlyphs">1030</text>
<text x="544.5" y="715" font-size="10" textLength="31" lengthAdjust="spacingAndGlyphs">1500</text>
<text x="666" y="719" font-size="12">3</text>
<text x="294" y="768.5" font-size="9" text-anchor="middle">Н-1</text>
<text x="423" y="768.5" font-size="9" text-anchor="middle">Н-1</text>
<text x="554" y="768.5" font-size="9" text-anchor="middle">Н-1</text>
<text x="323" y="840" font-size="9" text-anchor="middle">Н-1</text>
<text x="463" y="840" font-size="9" text-anchor="middle">Н-1</text>
<text x="600" y="840" font-size="9" text-anchor="middle">Н-1</text>
<text x="285" y="797" font-size="12">4</text>
<text x="366" y="797" font-size="12">5</text>
<text x="567" y="795" font-size="12">2</text>
<text x="494" y="815" font-size="12">5</text>
<text transform="translate(229,786) rotate(-90)" x="0" y="2.8" font-size="8" text-anchor="middle" textLength="9" lengthAdjust="spacingAndGlyphs">65</text>
<text transform="translate(185,783.5) rotate(-90)" x="0" y="2.8" font-size="8" text-anchor="middle" textLength="15" lengthAdjust="spacingAndGlyphs">550</text>
<text transform="translate(185,816.5) rotate(-90)" x="0" y="2.8" font-size="8" text-anchor="middle" textLength="17" lengthAdjust="spacingAndGlyphs">550</text>
<text transform="translate(447,780) rotate(-90)" x="0" y="2.5" font-size="7" text-anchor="middle" textLength="12" lengthAdjust="spacingAndGlyphs">155</text>
<text transform="translate(447,804) rotate(-90)" x="0" y="2.8" font-size="8" text-anchor="middle" textLength="17" lengthAdjust="spacingAndGlyphs">790</text>
<text transform="translate(358,811) rotate(-90)" x="0" y="2.8" font-size="8" text-anchor="middle" textLength="15" lengthAdjust="spacingAndGlyphs">260</text>
<text transform="translate(447,840.5) rotate(-90)" x="0" y="2.5" font-size="7" text-anchor="middle" textLength="8" lengthAdjust="spacingAndGlyphs">15</text>
<text transform="translate(370,854) rotate(-90)" x="0" y="2.5" font-size="7" text-anchor="middle" textLength="9" lengthAdjust="spacingAndGlyphs">20</text>
<text transform="translate(356.5,871) rotate(-90)" x="0" y="2.8" font-size="8" text-anchor="middle" textLength="17" lengthAdjust="spacingAndGlyphs">230</text>
<text transform="translate(740.5,750.8) rotate(-90)" x="0" y="2.8" font-size="8" text-anchor="middle" textLength="12" lengthAdjust="spacingAndGlyphs">510</text>
<text transform="translate(740.5,842) rotate(-90)" x="0" y="2.8" font-size="8" text-anchor="middle" textLength="13" lengthAdjust="spacingAndGlyphs">510</text>
<text x="134" y="793" font-size="14">1</text>
<text x="133" y="827" font-size="14">2</text>
<text x="808" y="793" font-size="14">1</text>
<text x="808" y="826" font-size="14">2</text>
<text x="614" y="869.5" font-size="11" textLength="86" lengthAdjust="spacingAndGlyphs">ТР. 25 ℓ=550</text>
<text x="561" y="877.5" font-size="9" textLength="26" lengthAdjust="spacingAndGlyphs">300</text>
<text x="220" y="886" font-size="9" textLength="19" lengthAdjust="spacingAndGlyphs">100</text>
<text x="447" y="886" font-size="11" textLength="36" lengthAdjust="spacingAndGlyphs">8000</text>
<text x="260" y="908" font-size="10" textLength="26" lengthAdjust="spacingAndGlyphs">800</text>
<text x="315" y="908" font-size="10" textLength="31" lengthAdjust="spacingAndGlyphs">1500</text>
<text x="382" y="908" font-size="10" textLength="33" lengthAdjust="spacingAndGlyphs">1030</text>
<text x="449" y="908" font-size="10" textLength="31" lengthAdjust="spacingAndGlyphs">1500</text>
<text x="504" y="908" font-size="8" textLength="14" lengthAdjust="spacingAndGlyphs">315</text>
<text x="523" y="908" font-size="8" textLength="17" lengthAdjust="spacingAndGlyphs">400</text>
<text x="543" y="908" font-size="8" textLength="17" lengthAdjust="spacingAndGlyphs">315</text>
<text x="590" y="908" font-size="10" textLength="31" lengthAdjust="spacingAndGlyphs">1500</text>
<text x="263" y="958" font-size="11" textLength="90" lengthAdjust="spacingAndGlyphs">ТР. 25 ℓ=105</text>
<text x="267.5" y="972.6" font-size="11" textLength="62" lengthAdjust="spacingAndGlyphs">V - 0,515</text>
<text x="528" y="957" font-size="15">4</text>
<text x="559" y="957" font-size="15">3</text>

<!-- SPEC TABLE texts -->
<text x="1061" y="374.5" font-size="14.5" textLength="434" lengthAdjust="spacingAndGlyphs">СПЕЦИФИКАЦИЯ ЭЛЕМЕНТОВОСМОТРОВОЙ КАНАВЫ СК3</text>
<text x="1064" y="410.3" font-size="10" textLength="45" lengthAdjust="spacingAndGlyphs">МАРКА</text>
<text x="1072" y="420.5" font-size="9" textLength="17" lengthAdjust="spacingAndGlyphs">поз.</text>
<text x="1122.5" y="410.3" font-size="12" textLength="113" lengthAdjust="spacingAndGlyphs">ОБОЗНАЧЕНИЕ</text>
<text x="1285" y="410.3" font-size="12" textLength="123" lengthAdjust="spacingAndGlyphs">НАИМЕНОВАНИЕ</text>
<text x="1422.5" y="410" font-size="10" textLength="22" lengthAdjust="spacingAndGlyphs">КОЛ.</text>
<text x="1450" y="396.3" font-size="8.5" textLength="33" lengthAdjust="spacingAndGlyphs">МАССА</text>
<text x="1448.5" y="408.5" font-size="8.5" textLength="36" lengthAdjust="spacingAndGlyphs">1эл.кг.</text>
<text x="1489" y="410" font-size="10" textLength="49" lengthAdjust="spacingAndGlyphs">ПРИМЕЧ</text>

<g font-size="13">
<text x="1086" y="441.5" text-anchor="middle">1</text>
<text x="1086" y="462.6" text-anchor="middle">2</text>
<text x="1086" y="484.2" text-anchor="middle">3</text>
<text x="1086" y="504.4" text-anchor="middle">4</text>
<text x="1086" y="526.1" text-anchor="middle">5</text>
<text x="1086" y="546.9" text-anchor="middle">6</text>
<text x="1086" y="568" text-anchor="middle">7</text>
<text x="1086" y="588.8" text-anchor="middle">8</text>
<text x="1086" y="609.9" text-anchor="middle">9</text>
<text x="1086" y="650.4" text-anchor="middle">10</text>
<text x="1086" y="712" text-anchor="middle">11</text>

<text x="1155" y="441.5" textLength="97" lengthAdjust="spacingAndGlyphs">—КЖИ.59.00.0</text>
<text x="1123" y="462.6" textLength="100" lengthAdjust="spacingAndGlyphs">ГОСТ 6368-82</text>
<text x="1155" y="484.2" textLength="100" lengthAdjust="spacingAndGlyphs">—КЖИ.41.00.0</text>
<text x="1155" y="504.4" textLength="100" lengthAdjust="spacingAndGlyphs">—КЖИ.64.00.0</text>
<text x="1156" y="526.1" textLength="102" lengthAdjust="spacingAndGlyphs">—КЖИ.63.00.0</text>
<text x="1156" y="546.9" textLength="105" lengthAdjust="spacingAndGlyphs">—КЖИ.29.00.0</text>
<text x="1156" y="568" textLength="105" lengthAdjust="spacingAndGlyphs">—КЖИ.30.00.0</text>
<text x="1124.5" y="629.4" textLength="109" lengthAdjust="spacingAndGlyphs">ГОСТ 3262-75*</text>
<text x="1161" y="712" textLength="101" lengthAdjust="spacingAndGlyphs">—КЖИ.66.00.0</text>

<text x="1270" y="441.5" textLength="140" lengthAdjust="spacingAndGlyphs">ЗАКЛАДНОЙ ЭЛЕМ. МН23</text>
<text x="1270.5" y="462.6" textLength="76" lengthAdjust="spacingAndGlyphs">РЕЛЬС Р 11</text>
<text x="1363" y="462.6" textLength="53" lengthAdjust="spacingAndGlyphs">ℓ=8000</text>
<text x="1270" y="484.2" textLength="138" lengthAdjust="spacingAndGlyphs">ЗАКЛАДНОЙ ЭЛЕМ. МН 5</text>
<text x="1270" y="504.4" textLength="67" lengthAdjust="spacingAndGlyphs">РЕШЕТКА</text>
<text x="1378" y="504.4" textLength="35" lengthAdjust="spacingAndGlyphs">МР-2</text>
<text x="1280" y="526.1" textLength="46" lengthAdjust="spacingAndGlyphs">ТО ЖЕ</text>
<text x="1380" y="526.1" textLength="35" lengthAdjust="spacingAndGlyphs">МР-1</text>
<text x="1271" y="546.9" textLength="44" lengthAdjust="spacingAndGlyphs">СЕТКА</text>
<text x="1380" y="546.9" textLength="27" lengthAdjust="spacingAndGlyphs">С-1</text>
<text x="1280" y="568" textLength="43" lengthAdjust="spacingAndGlyphs">ТО ЖЕ</text>
<text x="1381" y="568" textLength="27" lengthAdjust="spacingAndGlyphs">С-2</text>
<text x="1270" y="588.8" font-size="12" textLength="146" lengthAdjust="spacingAndGlyphs">А-I-8 ГОСТ5781-82*ℓ=200</text>
<text x="1270" y="609.9" textLength="149" lengthAdjust="spacingAndGlyphs">ЗАКЛАДНОЙ ЭЛЕМ. МН 22</text>
<text x="1270" y="629.4" textLength="64" lengthAdjust="spacingAndGlyphs">ТРУБА 25</text>
<text x="1361" y="629.4" textLength="47" lengthAdjust="spacingAndGlyphs">ℓ ОБЩ.</text>
<text x="1270" y="650.4" font-size="12" textLength="149" lengthAdjust="spacingAndGlyphs">А-III-8 ГОСТ 5781-82*ℓ=1000</text>
<text x="1270" y="670.9" textLength="97" lengthAdjust="spacingAndGlyphs">БЕТОН КЛАССА</text>
<text x="1380" y="670.9" textLength="24" lengthAdjust="spacingAndGlyphs">В15</text>
<text x="1270" y="691.9" textLength="97" lengthAdjust="spacingAndGlyphs">БЕТОН КЛАССА</text>
<text x="1383" y="691.9" textLength="21" lengthAdjust="spacingAndGlyphs">В10</text>
<text x="1270" y="712" textLength="46" lengthAdjust="spacingAndGlyphs">СКОБА</text>

<text x="1434" y="441.5" font-size="9.5" text-anchor="middle" textLength="22" lengthAdjust="spacingAndGlyphs">16.2</text>
<text x="1434" y="462.6" text-anchor="middle">2</text>
<text x="1434" y="484.2" text-anchor="middle">3</text>
<text x="1434" y="504.4" text-anchor="middle">6</text>
<text x="1434" y="526.1" text-anchor="middle">3</text>
<text x="1434" y="546.9" text-anchor="middle">6</text>
<text x="1434" y="568" text-anchor="middle">4</text>
<text x="1434" y="588.8" text-anchor="middle">12</text>
<text x="1434" y="609.9" text-anchor="middle">12</text>
<text x="1434" y="629.4" text-anchor="middle" font-size="12">9,0</text>
<text x="1434" y="650.4" text-anchor="middle">9</text>
<text x="1434" y="670.9" text-anchor="middle" font-size="12">3,0</text>
<text x="1434" y="691.9" text-anchor="middle" font-size="12">4,4</text>
<text x="1438" y="712" text-anchor="middle">3</text>

<text x="1450" y="441.5" textLength="27" lengthAdjust="spacingAndGlyphs">15.6</text>
<text x="1454" y="462.6" textLength="24" lengthAdjust="spacingAndGlyphs">90,0</text>
<text x="1451" y="484.2" textLength="28" lengthAdjust="spacingAndGlyphs">9.56</text>
<text x="1448" y="504.4" textLength="34" lengthAdjust="spacingAndGlyphs">17.22</text>
<text x="1453" y="526.1" textLength="25" lengthAdjust="spacingAndGlyphs">7.34</text>
<text x="1453" y="546.9" textLength="29" lengthAdjust="spacingAndGlyphs">27.0</text>
<text x="1456" y="568" textLength="20" lengthAdjust="spacingAndGlyphs">9.6</text>
<text x="1449" y="588.8" textLength="30" lengthAdjust="spacingAndGlyphs">0,08</text>
<text x="1451" y="609.9" textLength="18" lengthAdjust="spacingAndGlyphs">0,4</text>
<text x="1452" y="650.4" textLength="20" lengthAdjust="spacingAndGlyphs">0,4</text>
<text x="1451" y="712" textLength="26" lengthAdjust="spacingAndGlyphs">2,47</text>

<text x="1491" y="443" font-size="9.5" textLength="24" lengthAdjust="spacingAndGlyphs">п.м.</text>
<text x="1491" y="631" font-size="11" textLength="17" lengthAdjust="spacingAndGlyphs">кг.</text>
<text x="1491" y="672" font-size="11">м<tspan font-size="8" dy="-5">3</tspan></text>
<text x="1491" y="693" font-size="11">м<tspan font-size="8" dy="-5">3</tspan></text>
</g>

<!-- NOTES -->
<text x="1060" y="778.5" font-size="13">1.</text>
<text x="1089" y="778" font-size="13.5" textLength="371" lengthAdjust="spacingAndGlyphs">СЕЧЕНИЯ 3-3, 4-4, 5-5 И ОБЩИЕ ПРИМЕЧАНИЯ</text>
<text x="1091" y="797.8" font-size="13.5" textLength="143" lengthAdjust="spacingAndGlyphs">СМ. НА ЛИСТЕ 28.</text>
<text x="1060" y="815.5" font-size="13">2.</text>
<text x="1089" y="817" font-size="13.5" textLength="379" lengthAdjust="spacingAndGlyphs">ВЫБОРКУ СТАЛИ НАОСМОТРОВУЮ КАНАВУ СК3</text>
<text x="1091" y="835.5" font-size="13.5" textLength="143" lengthAdjust="spacingAndGlyphs">СМ. НА ЛИСТЕ 25.</text>

<!-- TITLE BLOCK texts -->
<g font-size="10">
<text x="1061" y="935" textLength="20" lengthAdjust="spacingAndGlyphs">ГИП</text>
<text x="1105.5" y="935" textLength="44" lengthAdjust="spacingAndGlyphs">МАРКОВ</text>
<text x="1060.5" y="948.5" textLength="41" lengthAdjust="spacingAndGlyphs">Н.КОНТР.</text>
<text x="1105.5" y="948.5" textLength="36" lengthAdjust="spacingAndGlyphs">МАЗУР</text>
<text x="1060.5" y="961.5" textLength="41" lengthAdjust="spacingAndGlyphs">НАЧ.ОТД</text>
<text x="1105.5" y="961.5" textLength="44" lengthAdjust="spacingAndGlyphs">ДАНКОВ</text>
<text x="1060.5" y="974.5" textLength="41" lengthAdjust="spacingAndGlyphs">ГЛ.КОНСТ</text>
<text x="1105.5" y="974.5" textLength="52" lengthAdjust="spacingAndGlyphs">ХАРЛАМОВ</text>
<text x="1060.5" y="987" textLength="38" lengthAdjust="spacingAndGlyphs">РУК.ГР.</text>
<text x="1105.5" y="987" textLength="44" lengthAdjust="spacingAndGlyphs">ГУЗЕНКО</text>
</g>
<text x="1297.5" y="954" font-size="18" class="it" textLength="174" lengthAdjust="spacingAndGlyphs">ТП 416-7-316.89 КЖ</text>
<text x="896" y="1004.5" font-size="12" textLength="68" lengthAdjust="spacingAndGlyphs">ПРИВЯЗАН</text>
<text x="889.6" y="1063.3" font-size="11" textLength="48" lengthAdjust="spacingAndGlyphs">ИНВ. №</text>
<text x="1229" y="1002" font-size="9.5" textLength="176" lengthAdjust="spacingAndGlyphs">ГЛАВНЫЙ КОРПУС РЕМОНТНО-</text>
<text x="1229" y="1014.5" font-size="9.5" textLength="176" lengthAdjust="spacingAndGlyphs">ПРОИЗВОДСТВЕННОЙ БАЗЫ НА 100</text>
<text x="1229" y="1027" font-size="9.5" textLength="177" lengthAdjust="spacingAndGlyphs">СПЕЦМАШИН ПО УБОРКЕ ГОРОДОВ</text>
<text x="1409.5" y="1004" font-size="9.5" textLength="37" lengthAdjust="spacingAndGlyphs">СТАДИЯ</text>
<text x="1452" y="1004" font-size="9.5" textLength="33" lengthAdjust="spacingAndGlyphs">ЛИСТ</text>
<text x="1491" y="1004" font-size="9.5" textLength="47" lengthAdjust="spacingAndGlyphs">ЛИСТОВ</text>
<text x="1428" y="1023.5" font-size="14" text-anchor="middle">Р</text>
<text x="1468" y="1023.5" font-size="13" text-anchor="middle">27</text>
<text x="1231" y="1043.5" font-size="12" textLength="164" lengthAdjust="spacingAndGlyphs">ОСМОТРОВАЯ КАНАВА СК3</text>
<text x="1231" y="1057.5" font-size="11" textLength="174" lengthAdjust="spacingAndGlyphs">ПЛАНЫ, РАЗРЕЗЫ 1-1 И 2-2.</text>
<text x="1410" y="1054" font-size="12" textLength="128" lengthAdjust="spacingAndGlyphs">ГИПРОКОММУНСТРОЙ</text>
<text x="1433" y="1066" font-size="11" textLength="67" lengthAdjust="spacingAndGlyphs">г. МОСКВА</text>
<text x="1297.5" y="1083.5" font-size="13" class="it" textLength="71" lengthAdjust="spacingAndGlyphs">23541-02</text>
<text x="1229" y="1100.5" font-size="11" textLength="71" lengthAdjust="spacingAndGlyphs">Коп. Дейг</text>
<text x="1441" y="1104.5" font-size="10" textLength="64" lengthAdjust="spacingAndGlyphs">Формат А2</text>
</g>
</svg>
</body></html>
